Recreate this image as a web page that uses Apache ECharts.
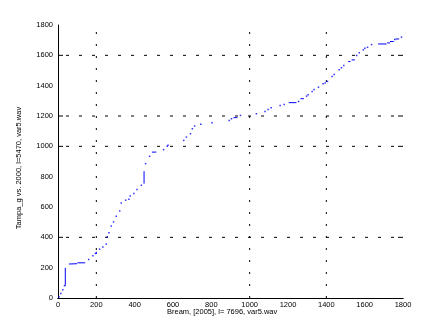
<!DOCTYPE html>
<html><head><meta charset="utf-8">
<script src="https://cdn.jsdelivr.net/npm/echarts@6/dist/echarts.min.js"></script>
<style>html,body{margin:0;padding:0;background:#fff}#c{width:447px;height:335px}</style>
</head><body><div id="c"></div>
<script>
// alignment path: isolated dots
const dots = [[5,8],[15,30],[25,55],[34,81],[160,254],[182,278],[195,294],[217,322],[234,337],[252,355],
[257,403],[266,430],[278,474],[290,502],[304,539],[322,574],[330,627],[353,645],[370,651],[377,673],
[396,689],[412,715],[435,743],[457,886],[478,934],[551,978],[570,1000],[574,1007],[656,1039],[670,1061],
[691,1083],[701,1116],[713,1134],[745,1145],[804,1156],[893,1171],[905,1182],[952,1204],[1035,1215],
[1080,1230],[1096,1243],[1112,1255],[1159,1270],[1180,1276],[1255,1296],[1297,1331],[1305,1340],
[1326,1362],[1336,1375],[1359,1390],[1383,1412],[1394,1418],[1406,1428],[1430,1461],[1441,1474],
[1467,1505],[1479,1518],[1491,1533],[1558,1599],[1572,1617],[1593,1636],[1601,1647],[1615,1653],
[1636,1671],[1757,1704],[1792,1720],[1801,1726]];
// solid runs of the path
const runs = [
 [[38,81],[38,199]],
 [[57,224],[99,226]],
 [[101,232],[142,232]],
 [[200,290],[200,305]],
 [[449,754],[449,836]],
 [[490,962],[513,962]],
 [[915,1189],[936,1189]],
 [[1204,1288],[1244,1288]],
 [[1265,1314],[1283,1314]],
 [[1514,1559],[1526,1559]],
 [[1532,1570],[1549,1570]],
 [[1670,1675],[1714,1675]],
 [[1717,1682],[1732,1682]],
 [[1732,1691],[1752,1691]],
 [[1761,1708],[1780,1708]]
];
const xTicks = [0,200,400,600,800,1000,1200,1400,1600,1800];
const yTicks = [0,200,400,600,800,1000,1200,1400,1600,1800];
const gridX = [200,1000,1400];
const gridY = [400,1000,1200,1600];

const runData = [];
runs.forEach(r => { r.forEach(p => runData.push(p)); runData.push(null); });

const FONT = 'Liberation Sans Narrow, Liberation Sans, Arial, sans-serif';
const chart = echarts.init(document.getElementById('c'), null, {renderer:'canvas'});
chart.setOption({
  animation:false,
  backgroundColor:'#fff',
  grid:{left:58, right:44, top:25, bottom:37},
  xAxis:[{
    type:'value', min:xTicks[0], max:xTicks[xTicks.length-1], interval:200,
    axisLine:{show:true, onZero:false, lineStyle:{color:'#000', width:1}},
    axisTick:{show:false},
    splitLine:{show:false},
    axisLabel:{color:'#000', fontSize:7.5, fontFamily:FONT, margin:3, formatter:v=>String(v)}
  },{
    type:'value', position:'top', min:0, max:1800,
    axisLine:{show:true, lineStyle:{color:'#000', width:1}},
    axisTick:{show:false}, axisLabel:{show:false}, splitLine:{show:false}
  }],
  yAxis:{
    type:'value', min:yTicks[0], max:yTicks[yTicks.length-1], interval:200,
    axisLine:{show:true, onZero:false, lineStyle:{color:'#000', width:1}},
    axisTick:{show:false},
    splitLine:{show:false},
    axisLabel:{color:'#000', fontSize:7.5, fontFamily:FONT, margin:5, formatter:v=>String(v)}
  },
  graphic:[
    {type:'text', left:167, top:308, style:{text:'Bream, [2005], l= 7696, var5.wav', font:'7.5px '+FONT, fill:'#000'}},
    {type:'text', x:19, y:168, rotation:Math.PI/2, style:{text:'Tampa_g vs. 2000, l=5470, var5.wav', font:'7.5px '+FONT, fill:'#000', align:'center', verticalAlign:'middle'}}
  ],
  series:[
    {
      type:'custom', silent:true, z:1,
      data: gridX.map(v=>[v]),
      renderItem:function(params, api){
        const b = api.coord([api.value(0), 0]);
        const t = api.coord([api.value(0), 1800]);
        return {type:'line', shape:{x1:b[0], y1:b[1], x2:t[0], y2:t[1]},
          style:{stroke:'#000', lineWidth:1, lineDash:[2,10]}};
      }
    },
    {
      type:'custom', silent:true, z:1,
      data: gridY.map(v=>[v]),
      renderItem:function(params, api){
        const l = api.coord([0, api.value(0)]);
        const r = api.coord([1800, api.value(0)]);
        return {type:'group', children:[
          {type:'line', shape:{x1:l[0], y1:l[1], x2:r[0], y2:r[1]}, style:{stroke:'#000', lineWidth:1, lineDash:[3,10], lineDashOffset:-8}},
          {type:'line', shape:{x1:l[0], y1:l[1], x2:l[0]+5, y2:l[1]}, style:{stroke:'#000', lineWidth:1}},
          {type:'line', shape:{x1:r[0]-5, y1:r[1], x2:r[0], y2:r[1]}, style:{stroke:'#000', lineWidth:1}}
        ]};
      }
    },
    {
      type:'line', data:runData, connectNulls:false, showSymbol:false, z:3,
      lineStyle:{color:'#0000ff', width:1}
    },
    {
      type:'scatter', data:dots, symbol:'rect', symbolSize:[1.5,1.5], z:3,
      itemStyle:{color:'#0000ff'}
    }
  ]
});
</script></body></html>
